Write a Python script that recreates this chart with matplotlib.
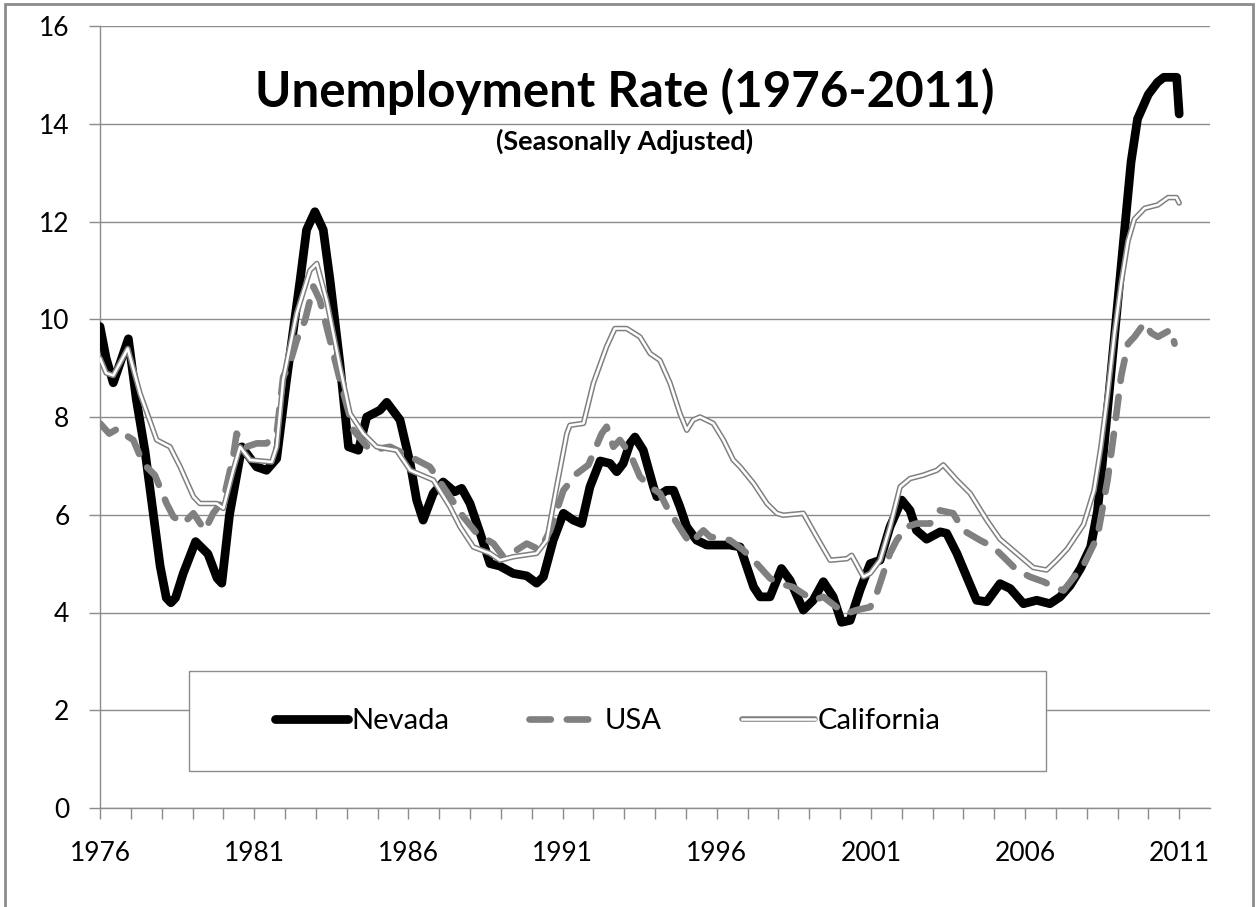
import matplotlib
matplotlib.use("Agg")
import matplotlib.pyplot as plt
from matplotlib.patches import Rectangle
from matplotlib.lines import Line2D
from matplotlib.legend_handler import HandlerTuple

# valores (ano fracionario, taxa %)
nevada_year = [1976.0, 1976.2, 1976.43, 1976.65, 1976.92, 1977.18, 1977.46, 1977.67, 1977.95, 1978.15,
               1978.3, 1978.45, 1978.7, 1979.1, 1979.5, 1979.8, 1979.95, 1980.2, 1980.6, 1980.75, 1981.08,
               1981.4, 1981.73, 1982.05, 1982.49, 1982.7, 1982.97, 1983.24, 1983.46, 1983.78, 1984.06, 1984.38, 1984.65,
               1985.08, 1985.3, 1985.73, 1986.06, 1986.27, 1986.48, 1986.81, 1987.13, 1987.5, 1987.73,
               1988.0, 1988.33, 1988.65, 1988.97, 1989.4, 1989.84, 1990.16, 1990.38, 1990.7, 1991.03,
               1991.35, 1991.62, 1991.89, 1992.22, 1992.54, 1992.76, 1992.97, 1993.19, 1993.35, 1993.62,
               1993.95, 1994.06, 1994.38, 1994.6, 1994.81, 1995.03, 1995.35, 1995.68, 1996.43, 1996.76,
               1996.98, 1997.2, 1997.41, 1997.73, 1998.1, 1998.38, 1998.81, 1999.13, 1999.46, 1999.78,
               2000.05, 2000.33, 2000.65, 2000.98, 2001.3, 2001.62, 2002.0, 2002.27, 2002.48, 2002.81,
               2003.25, 2003.46, 2003.79, 2004.11, 2004.43, 2004.76, 2005.19, 2005.52, 2005.95, 2006.38,
               2006.81, 2007.14, 2007.46, 2007.8, 2008.13, 2008.35, 2008.56, 2008.78, 2009.0, 2009.22,
               2009.44, 2009.65, 2010.0, 2010.3, 2010.5, 2010.92, 2011.0]
nevada_rate = [9.85, 9.2, 8.7, 9.1, 9.6, 8.35, 7.3, 6.3, 4.95, 4.3,
               4.2, 4.3, 4.8, 5.45, 5.2, 4.7, 4.6, 6.0, 7.39, 7.26, 6.98,
               6.91, 7.15, 8.76, 10.8, 11.83, 12.2, 11.83, 10.8, 9.1, 7.39, 7.32, 8.0,
               8.14, 8.3, 7.94, 7.05, 6.3, 5.89, 6.44, 6.67, 6.47, 6.54,
               6.23, 5.62, 5.0, 4.95, 4.8, 4.75, 4.6, 4.73, 5.48, 6.03,
               5.89, 5.82, 6.57, 7.1, 7.05, 6.88, 7.05, 7.46, 7.59, 7.32,
               6.57, 6.37, 6.5, 6.5, 6.16, 5.75, 5.48, 5.38, 5.38, 5.34,
               4.93, 4.52, 4.32, 4.32, 4.9, 4.66, 4.05, 4.25, 4.63, 4.32,
               3.8, 3.84, 4.46, 5.0, 5.07, 5.75, 6.3, 6.09, 5.68, 5.5,
               5.65, 5.62, 5.21, 4.73, 4.25, 4.22, 4.59, 4.49, 4.18, 4.25,
               4.18, 4.32, 4.55, 4.9, 5.34, 6.07, 7.38, 8.84, 10.3, 11.76,
               13.22, 14.1, 14.6, 14.85, 14.95, 14.95, 14.2]

usa_year = [1976.0, 1976.3, 1976.6, 1976.76, 1977.08, 1977.4, 1977.78, 1978.16, 1978.38, 1978.7,
            1979.03, 1979.4, 1979.67, 1980.0, 1980.32, 1980.43, 1980.75, 1981.08, 1981.4, 1981.73,
            1981.94, 1982.16, 1982.38, 1982.65, 1982.92, 1983.13, 1983.46, 1983.78, 1984.22, 1984.76,
            1985.41, 1986.06, 1986.7, 1987.35, 1987.78, 1988.22, 1988.76, 1989.08, 1989.52, 1989.84,
            1990.27, 1990.6, 1991.03, 1991.46, 1991.84, 1992.27, 1992.43, 1992.65, 1992.86, 1993.19,
            1993.51, 1993.84, 1994.16, 1994.38, 1994.92, 1995.14, 1995.57, 1995.78, 1996.43, 1996.86,
            1997.2, 1997.73, 1998.0, 1998.48, 1999.13, 1999.46, 1999.89, 2000.22, 2000.54, 2000.98,
            2001.19, 2001.62, 2001.84, 2002.16, 2002.48, 2002.92, 2003.24, 2003.67, 2004.0, 2004.54,
            2004.97, 2005.3, 2005.73, 2006.16, 2006.6, 2007.03, 2007.25, 2007.9, 2008.35, 2008.68,
            2008.9, 2009.12, 2009.34, 2009.55, 2009.88, 2010.09, 2010.31, 2010.74, 2010.85]
usa_rate = [7.87, 7.66, 7.77, 7.66, 7.53, 7.05, 6.81, 6.23, 5.96, 5.82,
            6.03, 5.68, 6.03, 6.3, 7.19, 7.66, 7.39, 7.46, 7.46, 7.66,
            8.82, 9.1, 9.57, 9.98, 10.67, 10.39, 9.57, 8.76, 7.73, 7.32,
            7.39, 7.19, 6.98, 6.37, 5.96, 5.62, 5.41, 5.14, 5.28, 5.41,
            5.28, 5.68, 6.5, 6.84, 7.02, 7.66, 7.8, 7.39, 7.53, 7.25,
            6.78, 6.57, 6.44, 6.16, 5.62, 5.41, 5.68, 5.55, 5.48, 5.28,
            5.07, 4.7, 4.6, 4.52, 4.25, 4.32, 4.11, 3.98, 4.05, 4.11,
            4.39, 5.21, 5.48, 5.75, 5.82, 5.82, 6.09, 6.03, 5.68, 5.48,
            5.34, 5.14, 4.87, 4.73, 4.63, 4.5, 4.45, 4.97, 5.55, 6.72,
            7.74, 8.84, 9.5, 9.64, 9.93, 9.72, 9.64, 9.79, 9.5]

california_year = [1976.0, 1976.2, 1976.43, 1976.9, 1977.3, 1977.84, 1978.27, 1978.6, 1979.03, 1979.24,
                   1979.78, 1980.0, 1980.32, 1980.54, 1980.87, 1981.57, 1981.73, 1981.94, 1982.38, 1982.81,
                   1983.03, 1983.35, 1983.78, 1984.11, 1984.54, 1984.97, 1985.62, 1986.06, 1986.81, 1987.35,
                   1987.68, 1988.11, 1988.65, 1988.97, 1989.4, 1990.16, 1990.49, 1990.81, 1991.14, 1991.24,
                   1991.68, 1992.0, 1992.43, 1992.7, 1993.08, 1993.51, 1993.84, 1994.16, 1994.49, 1994.81,
                   1995.03, 1995.24, 1995.46, 1995.89, 1996.22, 1996.54, 1996.76, 1997.2, 1997.63, 1997.95,
                   1998.16, 1998.81, 1999.24, 1999.68, 2000.22, 2000.38, 2000.76, 2000.98, 2001.3, 2001.62,
                   2001.95, 2002.27, 2002.7, 2003.14, 2003.35, 2003.79, 2004.22, 2004.76, 2005.19, 2005.73,
                   2006.27, 2006.7, 2007.03, 2007.37, 2007.9, 2008.24, 2008.46, 2008.68, 2008.9, 2009.12,
                   2009.34, 2009.55, 2009.88, 2010.31, 2010.64, 2010.91, 2011.0]
california_rate = [9.2, 8.9, 8.85, 9.4, 8.48, 7.53, 7.39, 6.98, 6.37, 6.23,
                   6.23, 6.13, 6.91, 7.39, 7.12, 7.08, 7.39, 8.76, 10.12, 11.0,
                   11.14, 10.39, 9.03, 8.07, 7.66, 7.39, 7.32, 6.91, 6.71, 6.16,
                   5.75, 5.34, 5.21, 5.07, 5.14, 5.21, 5.48, 6.57, 7.66, 7.83,
                   7.87, 8.69, 9.44, 9.81, 9.81, 9.64, 9.3, 9.16, 8.69, 8.07,
                   7.73, 7.94, 8.0, 7.87, 7.53, 7.12, 6.98, 6.64, 6.23, 6.03,
                   5.99, 6.03, 5.55, 5.07, 5.1, 5.17, 4.73, 4.8, 5.07, 5.75,
                   6.57, 6.74, 6.81, 6.91, 7.02, 6.71, 6.44, 5.89, 5.5, 5.21,
                   4.92, 4.87, 5.07, 5.3, 5.8, 6.5, 7.38, 8.47, 9.7, 10.74,
                   11.6, 12.05, 12.27, 12.34, 12.49, 12.49, 12.38]

year_ticks = list(range(1976, 2012))
year_labels = [str(y) if (y - 1976) % 5 == 0 else "" for y in year_ticks]

plt.rcParams['font.family'] = ['Lato', 'DejaVu Sans']
cinza = '#808080'

fig = plt.figure(figsize=(12.57, 9.07), dpi=100)
ax = fig.add_axes([100 / 1257, 1 - 808 / 907, 1110 / 1257, 782 / 907])

ax.plot(nevada_year, nevada_rate, color='black', lw=6.3, solid_capstyle='round',
        solid_joinstyle='round', zorder=3)
ax.plot(usa_year, usa_rate, color=cinza, lw=4.8, dashes=(3.2, 2.4),
        dash_capstyle='round', dash_joinstyle='round', zorder=4)
ax.plot(california_year, california_rate, color=cinza, lw=4.0, solid_joinstyle='round',
        solid_capstyle='round', zorder=5)
ax.plot(california_year, california_rate, color='white', lw=1.8, solid_joinstyle='round',
        solid_capstyle='round', zorder=6)

ax.set_xlim(1976, 2012)
ax.set_ylim(0, 16)
ax.set_yticks(range(0, 17, 2))
ax.set_xticks(year_ticks)
ax.set_xticklabels(year_labels)
ax.grid(axis='y', color='#8c8c8c', lw=1)
ax.set_axisbelow(True)
for s in ['top', 'right']:
    ax.spines[s].set_visible(False)
for s in ['left', 'bottom']:
    ax.spines[s].set_color('#8c8c8c')
    ax.spines[s].set_linewidth(1)
ax.tick_params(axis='both', colors='#8c8c8c', labelcolor='black', labelsize=19,
               direction='out', length=8, width=1)
ax.tick_params(axis='y', pad=14)
ax.tick_params(axis='x', pad=16)

# caixa da legenda
ax.add_patch(Rectangle((89 / 1110, 37 / 782), 857 / 1110, 100 / 782, transform=ax.transAxes,
                       facecolor='white', edgecolor='#8c8c8c', lw=1, zorder=7))
h_nv = Line2D([], [], color='black', lw=6.3, solid_capstyle='round')
h_us = Line2D([], [], color=cinza, lw=4.8, dashes=(3.2, 2.4), dash_capstyle='round')
h_ca1 = Line2D([], [], color=cinza, lw=4.0, solid_capstyle='round')
h_ca2 = Line2D([], [], color='white', lw=1.8)
leg = ax.legend([h_nv, h_us, (h_ca1, h_ca2)], ['Nevada', 'USA', 'California'],
                handler_map={tuple: HandlerTuple(ndivide=1)},
                loc='center', bbox_to_anchor=(508 / 1110, 87 / 782), ncol=3,
                frameon=False, fontsize=21, handlelength=2.5, handletextpad=0.1,
                columnspacing=2.75)
leg.set_zorder(8)

fig.text(625 / 1257, 1 - 91 / 907, 'Unemployment Rate (1976-2011)', ha='center', va='center',
         fontsize=35.5, fontweight='bold')
fig.text(625 / 1257, 1 - 141 / 907, '(Seasonally Adjusted)', ha='center', va='center',
         fontsize=19.5, fontweight='bold')

fig.patches.append(Rectangle((5 / 1257, -0.05), 1248 / 1257, 1.05 - 4 / 907,
                             transform=fig.transFigure, fill=False, edgecolor='#8c8c8c', lw=2))

fig.savefig('out.png', dpi=100)
